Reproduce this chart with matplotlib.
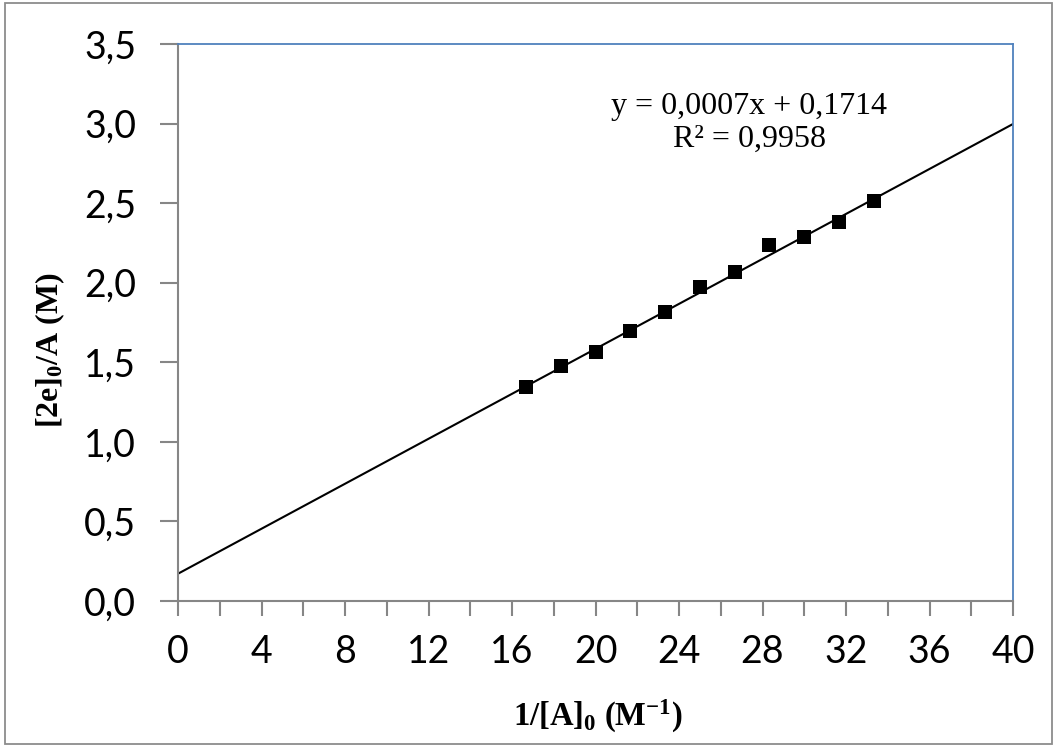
import matplotlib
matplotlib.use("Agg")
import matplotlib.pyplot as plt
from matplotlib.ticker import MultipleLocator, FuncFormatter
from matplotlib.patches import Rectangle

# Data
x_vals = [16.67, 18.33, 20.00, 21.67, 23.33, 25.00, 26.67, 28.33, 30.00, 31.67, 33.33]
y_vals = [1.343, 1.477, 1.563, 1.697, 1.818, 1.975, 2.069, 2.235, 2.285, 2.383, 2.514]
fit_intercept = 0.1714
fit_slope = 0.07065
fit_x = [0, 40]
eq_text = "y = 0,0007x + 0,1714"
r2_text = "R² = 0,9958"
xlabel_txt = r"$\mathbf{1/[A]_0\ (M^{-1})}$"
ylabel_txt = r"$\mathbf{[2e]_0/A\ (M)}$"

plt.rcParams['mathtext.fontset'] = 'custom'
plt.rcParams['mathtext.rm'] = 'Liberation Serif'
plt.rcParams['mathtext.bf'] = 'Liberation Serif:bold'
plt.rcParams['mathtext.it'] = 'Liberation Serif:italic'

W, H = 1057, 747
fig = plt.figure(figsize=(W/100, H/100), dpi=100)
fig.patch.set_facecolor('white')
# figure border
fig.patches.append(Rectangle((5/W, 3/H), 1 - 10/W, 1 - 6/H, transform=fig.transFigure,
                             fill=False, edgecolor='#8c8c8c', linewidth=1.3))

ax = fig.add_axes([178/W, 1 - 601/H, (1013 - 178)/W, (601 - 44)/H])

fit_y = [fit_intercept + fit_slope * xx for xx in fit_x]
ax.plot(fit_x, fit_y, color='black', linewidth=1.5, zorder=2)
ax.scatter(x_vals, y_vals, marker='s', s=110, color='black', zorder=3, linewidths=0)

ax.set_xlim(0, 40)
ax.set_ylim(0, 3.5)
ax.xaxis.set_major_locator(MultipleLocator(4))
ax.xaxis.set_minor_locator(MultipleLocator(2))
ax.yaxis.set_major_locator(MultipleLocator(0.5))
ax.xaxis.set_major_formatter(FuncFormatter(lambda v, p: f"{v:.0f}"))
ax.yaxis.set_major_formatter(FuncFormatter(lambda v, p: f"{v:.1f}".replace('.', ',')))

gray = '#868686'
blue = '#4F81BD'
for s in ['left', 'bottom']:
    ax.spines[s].set_color(gray)
    ax.spines[s].set_linewidth(1.5)
for s in ['top', 'right']:
    ax.spines[s].set_color(blue)
    ax.spines[s].set_linewidth(1.3)

ax.tick_params(axis='both', which='both', direction='out', color=gray, width=1.5)
ax.tick_params(axis='x', which='both', length=11, pad=13)
ax.tick_params(axis='y', which='major', length=13, pad=17)
for lab in ax.get_xticklabels() + ax.get_yticklabels():
    lab.set_fontfamily('Lato')
    lab.set_fontsize(27)

ax.text(0.684, 0.888, eq_text, transform=ax.transAxes, ha='center', va='center',
        fontfamily='Liberation Serif', fontsize=23)
ax.text(0.684, 0.829, r2_text, transform=ax.transAxes, ha='center', va='center',
        fontfamily='Liberation Serif', fontsize=23)

fig.text(598/W, 1 - 716/H, xlabel_txt, ha='center', va='center', fontsize=23.5)
fig.text(50/W, 1 - 350/H, ylabel_txt, ha='center', va='center', fontsize=23, rotation=90)

fig.savefig('out.png', dpi=100)
